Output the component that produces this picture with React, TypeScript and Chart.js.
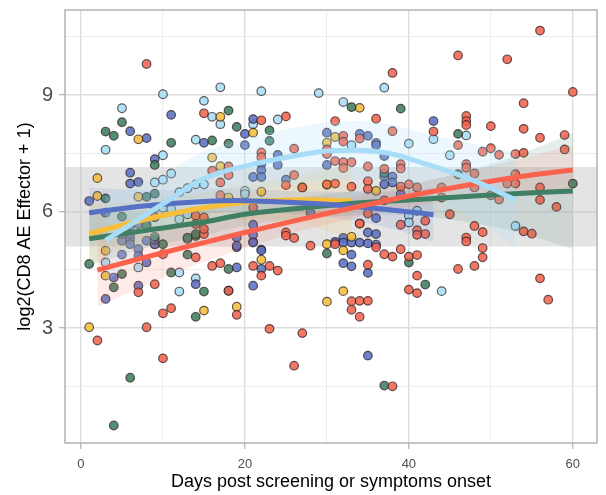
import React, { useEffect, useRef } from 'react';
import { Chart, registerables } from 'chart.js';
Chart.register(...registerables);

const X_MIN = -1.95, X_MAX = 62.95, Y_MIN = 0.04, Y_MAX = 11.19;
const X_TICKS = [0, 10, 20, 30, 40, 50, 60];
const Y_TICKS = [1.5, 3, 4.5, 6, 7.5, 9, 10.5];
const BAND_LOW = 5.1, BAND_HIGH = 7.15;
const X_TITLE = 'Days post screening or symptoms onset';
const Y_TITLE = 'log2(CD8 AE Effector + 1)';

type P = [number, number];
const redPts: P[] = [
  [8,9.8],[15,8.53],[22,8.35],[25,8.45],[26,7.62],[16,7.05],[18,7.16],[18,6.94],[17,6.75],[22,7.52],[22,7.4],[26,6.94],[25,6.68],[27,6.62],[17,6.42],[21,6.1],[30,7.6],[30,7.48],[31,8.33],[31,6.72],[30,6.7],[25,5.46],[25,5.38],[26,5.32],
  [56,10.66],[46,10.02],[52,9.92],[38,9.57],[60,9.08],[54,8.79],[47,8.46],[47,8.33],[47,8.23],[36,8.39],[38,8.07],[43,8.06],[50,8.2],[54,8.13],[56,7.9],[59,7.97],[46,7.71],[32,7.95],[32,7.8],[34,7.88],[50,7.63],[49,7.54],[51,7.46],[53,7.48],[54,7.51],[59,7.6],[32,7.27],[32,7.12],[33,7.27],[35,7.16],[37,7.1],[39,7.22],[39,7.11],[47,7.22],[47,7.13],[48,6.98],[53,6.96],[53,6.72],[52,6.72],[35,6.78],[31,7.3],[33,6.64],[35,6.58],[39,6.64],[40,6.7],[41,6.62],[44,6.62],[44,6.36],[45,5.93],[50,6.42],[51,6.31],[56,6.62],[56,6.3],[58,6.12],[48,6.62],[39,5.66],[42,5.76],[48,5.63],[49,5.47],[54,5.49],[55,5.43],[41,5.52],[42,5.42],[41,5.4],[37,6.29],[35,5.95],[34,5.69],
  [31,5.16],[35,4.63],[36,5.08],[37,4.9],[38,4.84],[39,5.03],[40,4.84],[41,4.88],[41,4.35],[40,3.99],[41,3.9],[33,3.69],[34,3.7],[35,3.7],[33,3.47],[34,3.29],[46,4.52],[48,4.6],[49,4.82],[49,5.06],[47,5.33],[47,5.23],[56,4.28],[57,3.73],[38,1.5],
  [7,3.92],[9,4.13],[10,3.38],[11,3.51],[8,3.02],[16,4.6],[17,4.67],[19,3.34],[21,4.6],[22,4.35],[23,4.6],[24,4.48],[23,2.98],[27,2.87],[26,2.03],[28,5.12],[2,2.68],[10,2.22],[14,4.82],[15,5.42],[10,4.9],[18,3.96],
  [9,5.86],[14,5.89],[15,5.85],[14,5.68],[15,5.55]
];
const lightBluePts: P[] = [
  [17,9.2],[22,9.1],[29,9.05],[10,9.02],[5,8.66],[15,8.85],[16,8.44],[17,8.25],[3,7.59],[14,7.85],[24,8.37],[10,7.45],[9,6.75],[10,6.82],[11,6.98],[12,6.5],[13,6.6],[14,6.7],[15,6.7],[20,6.53],[37,9.19],[32,8.82],[47,7.96],[43,7.86],[40,7.75],[33,7.71],[45,7.45],[41,6.02],[40,5.89],[40,5.72],[53,5.63],[44,3.95],[3,4.69],[7,4.56],[12,4.43],[12,3.94],[14,4.28],[9,5.16],[13,5.29],[9,6.1],[10,6.1],[11,6.06],[12,5.8],[13,5.93],[21,8.25],[20,6.45]
];
const bluePts: P[] = [
  [11,8.49],[6,8.07],[8,7.89],[15,7.77],[9,7.35],[6,7.0],[6,6.72],[7,6.76],[1,6.27],[21,8.38],[20,8.0],[20,7.71],[22,7.22],[22,7.06],[24,7.46],[24,7.2],[21,6.89],[22,6.89],[25,6.82],[30,8.03],[30,7.2],[43,8.33],[34,8.0],[35,7.95],[36,7.77],[36,7.71],[37,7.43],[37,6.9],[38,6.9],[38,6.75],[37,6.7],[39,6.45],[32,5.32],[32,5.2],[33,5.2],[34,5.2],[35,5.18],[36,5.15],[33,4.89],[32,4.67],[33,4.59],[35,4.42],[36,5.83],[35,5.46],[36,5.42],[35,2.29],[4,4.3],[3,3.75],[5,4.89],[7,4.09],[8,4.69],[14,4.13],[19,4.56],[22,4.52],[21,4.09],[5,5.25],[6,5.29],[6,5.16],[7,5.03],[8,5.25],[9,5.16],[19,5.33],[19,5.08],[21,5.22],[22,5.02],[3,5.97],[6,5.63],[7,5.68],[8,5.68],[5,5.42],[6,5.42],[7,4.86],[9,5.27],[28,5.97],[21,5.66],[21,5.4],[21,5.2],[19,5.12],[22,5.0],[31,5.22],[18,3.96]
];
const yellowPts: P[] = [
  [17,8.44],[7,7.86],[21,8.03],[2,6.86],[16,7.39],[22,6.51],[2,6.4],[7,6.38],[30,7.77],[31,7.92],[30,6.69],[17,7.17],[18,6.36],[34,8.67],[36,6.53],[33,5.35],[32,5.0],[32,3.95],[30,3.68],[3,4.99],[3,4.35],[15,3.45],[19,3.55],[22,4.76],[30,5.16],[1,3.02],[34,5.69]
];
const greenPts: P[] = [
  [18,8.6],[5,8.3],[3,8.06],[4,7.95],[11,7.77],[16,7.83],[18,7.75],[19,8.18],[23,8.09],[23,7.82],[9,7.2],[27,6.62],[3,6.34],[8,6.38],[9,6.46],[33,8.69],[39,8.65],[46,8.0],[37,6.99],[46,6.96],[60,6.72],[40,4.69],[42,4.12],[37,1.52],[1,4.65],[4,4.05],[5,4.39],[11,4.43],[15,3.94],[14,3.29],[18,4.52],[30,4.92],[6,1.72],[4,0.49],[9,5.35],[10,5.16],[13,4.89],[14,5.37],[8,5.63],[9,5.85],[5,5.87],[14,5.42],[13,5.33]
];

// smooth fits (day, fit, half-width of confidence band)
const redDays = [2, 6, 10, 15, 20, 25, 30, 35, 40, 45, 50, 55, 60];
const redFit = [4.49, 4.72, 4.94, 5.2, 5.46, 5.71, 5.95, 6.18, 6.4, 6.6, 6.78, 6.94, 7.07];
const redSe = [0.95, 0.8, 0.65, 0.5, 0.4, 0.32, 0.28, 0.27, 0.28, 0.32, 0.4, 0.5, 0.63];
const lightBlueDays = [3, 8, 11, 15, 20, 26, 31, 37, 42, 48, 53];
const lightBlueFit = [5.26, 5.93, 6.33, 6.85, 7.17, 7.43, 7.57, 7.52, 7.23, 6.79, 6.3];
const lightBlueSe = [1.1, 0.85, 0.75, 0.7, 0.7, 0.72, 0.75, 0.75, 0.78, 0.95, 1.25];
const blueDays = [1, 8, 15, 20, 26, 31, 37, 43];
const blueFit = [5.97, 6.15, 6.26, 6.28, 6.23, 6.17, 6.06, 5.92];
const blueSe = [0.65, 0.4, 0.32, 0.3, 0.3, 0.34, 0.45, 0.7];
const yellowDays = [1, 5, 10, 15, 20, 25, 33];
const yellowFit = [5.43, 5.65, 5.9, 6.1, 6.24, 6.3, 6.28];
const yellowSe = [0.8, 0.6, 0.45, 0.4, 0.45, 0.55, 0.95];
const greenDays = [1, 8, 15, 20, 26, 32, 40, 48, 54, 60];
const greenFit = [5.3, 5.52, 5.73, 5.93, 6.07, 6.19, 6.3, 6.4, 6.47, 6.53];
const greenSe = [0.7, 0.45, 0.35, 0.3, 0.28, 0.3, 0.4, 0.7, 1.05, 1.5];

const COLORS = {
  red: { pt: 'rgba(242,99,79,0.88)', line: '#FA624E', rib: 'rgba(250,98,78,0.13)' },
  lightBlue: { pt: 'rgba(168,221,245,0.88)', line: '#A8DDF8', rib: 'rgba(168,221,248,0.22)' },
  blue: { pt: 'rgba(91,111,192,0.88)', line: '#5570C4', rib: 'rgba(85,112,196,0.12)' },
  yellow: { pt: 'rgba(244,190,60,0.88)', line: '#F8BE3A', rib: 'rgba(248,190,58,0.13)' },
  green: { pt: 'rgba(63,125,96,0.88)', line: '#3F7F64', rib: 'rgba(63,127,100,0.13)' },
};

function pts(a: P[]) { return a.map(([x, y]) => ({ x, y })); }
function series(days: number[], vals: number[]) { return days.map((d, i) => ({ x: d, y: vals[i] })); }

function smoothSets(days: number[], fit: number[], se: number[], c: { line: string; rib: string }, lineOrder: number) {
  const hi = fit.map((v, i) => v + se[i]);
  const lo = fit.map((v, i) => v - se[i]);
  return [
    { type: 'line', data: series(days, hi), borderWidth: 0, pointRadius: 0, backgroundColor: c.rib, fill: '+1', tension: 0.4, order: 2 },
    { type: 'line', data: series(days, lo), borderWidth: 0, pointRadius: 0, fill: false, tension: 0.4, order: 2 },
    { type: 'line', data: series(days, fit), borderWidth: 5, borderColor: c.line, pointRadius: 0, fill: false, tension: 0.4, order: lineOrder, borderCapStyle: 'butt' },
  ];
}

const borderPlugin = {
  id: 'panelBorder',
  afterDraw(chart: any) {
    const { ctx, chartArea: a } = chart;
    ctx.save();
    ctx.strokeStyle = '#b3b3b3';
    ctx.lineWidth = 1.5;
    ctx.strokeRect(a.left, a.top, a.right - a.left, a.bottom - a.top);
    ctx.restore();
  },
};

export default function App() {
  const ref = useRef<HTMLCanvasElement>(null);
  useEffect(() => {
    document.body.style.margin = '0';
    const font = "'Liberation Sans', Arial, Helvetica, sans-serif";
    Chart.defaults.font.family = font;
    const scatter = (a: P[], color: string) => ({
      type: 'scatter', data: pts(a), backgroundColor: color, borderColor: 'rgba(35,25,25,0.7)',
      borderWidth: 1.2, pointRadius: 4.3, order: 3,
    });
    const datasets: any[] = [
      ...smoothSets(lightBlueDays, lightBlueFit, lightBlueSe, COLORS.lightBlue, 1.0),
      ...smoothSets(redDays, redFit, redSe, COLORS.red, 1.1),
      ...smoothSets(blueDays, blueFit, blueSe, COLORS.blue, 1.2),
      ...smoothSets(greenDays, greenFit, greenSe, COLORS.green, 1.3),
      ...smoothSets(yellowDays, yellowFit, yellowSe, COLORS.yellow, 1.4),
      scatter(redPts, COLORS.red.pt),
      scatter(greenPts, COLORS.green.pt),
      scatter(yellowPts, COLORS.yellow.pt),
      scatter(bluePts, COLORS.blue.pt),
      scatter(lightBluePts, COLORS.lightBlue.pt),
      { type: 'line', data: [{ x: X_MIN, y: BAND_HIGH }, { x: X_MAX, y: BAND_HIGH }], borderWidth: 0, pointRadius: 0, backgroundColor: 'rgba(190,190,190,0.42)', fill: '+1', order: 4 },
      { type: 'line', data: [{ x: X_MIN, y: BAND_LOW }, { x: X_MAX, y: BAND_LOW }], borderWidth: 0, pointRadius: 0, fill: false, order: 4 },
    ];
    const chart = new Chart(ref.current!, {
      type: 'scatter',
      data: { datasets },
      options: {
        animation: false,
        responsive: false,
        devicePixelRatio: 1,
        layout: { padding: { top: 10, right: 9, left: 0, bottom: 0 } },
        plugins: { legend: { display: false }, tooltip: { enabled: false } },
        scales: {
          x: {
            type: 'linear', min: X_MIN, max: X_MAX,
            afterBuildTicks: (s: any) => { s.ticks = X_TICKS.map((v) => ({ value: v })); },
            afterFit: (s: any) => { s.height = 52; s.paddingLeft = 0; s.paddingRight = 0; },
            border: { display: false },
            grid: {
              color: (c: any) => (c.tick && c.tick.value % 20 === 0 ? '#dedede' : '#ebebeb'),
              lineWidth: (c: any) => (c.tick && c.tick.value % 20 === 0 ? 1.4 : 0.9),
              tickColor: (c: any) => (c.tick && c.tick.value % 20 === 0 ? '#b3b3b3' : 'rgba(0,0,0,0)'),
              tickLength: 6, tickWidth: 1.2,
            },
            ticks: {
              autoSkip: false, maxRotation: 0, padding: 8, color: '#4d4d4d', font: { size: 13 },
              callback: (v: any) => (Number(v) % 20 === 0 ? String(v) : ''),
            },
            title: { display: true, text: X_TITLE, color: '#000', font: { size: 18 }, padding: { top: 0, bottom: 2 } },
          },
          y: {
            type: 'linear', min: Y_MIN, max: Y_MAX,
            afterBuildTicks: (s: any) => { s.ticks = Y_TICKS.map((v) => ({ value: v })); },
            afterFit: (s: any) => { s.width = 65; s.paddingTop = 0; s.paddingBottom = 0; },
            border: { display: false },
            grid: {
              color: (c: any) => (c.tick && c.tick.value % 3 === 0 ? '#dedede' : '#ebebeb'),
              lineWidth: (c: any) => (c.tick && c.tick.value % 3 === 0 ? 1.4 : 0.9),
              tickColor: (c: any) => (c.tick && c.tick.value % 3 === 0 ? '#b3b3b3' : 'rgba(0,0,0,0)'),
              tickLength: 6, tickWidth: 1.2,
            },
            ticks: {
              autoSkip: false, padding: 6, color: '#4d4d4d', font: { size: 20 },
              callback: (v: any) => (Number(v) % 3 === 0 ? String(v) : ''),
            },
            title: { display: true, text: Y_TITLE, color: '#000', font: { size: 18 }, padding: { top: 14, bottom: 0 } },
          },
        },
      } as any,
      plugins: [borderPlugin],
    });
    return () => chart.destroy();
  }, []);
  return <canvas ref={ref} width={606} height={495} style={{ display: 'block' }} />;
}
